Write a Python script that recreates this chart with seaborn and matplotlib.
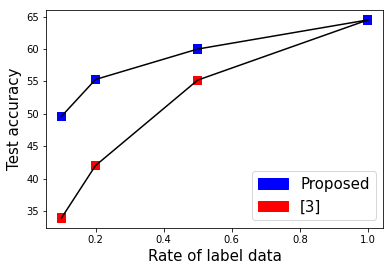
import matplotlib
matplotlib.use("Agg")
import matplotlib.pyplot as plt
import matplotlib.patches as mpatches
import pandas as pd
import seaborn as sns

# Data
rates = [0.1, 0.2, 0.5, 1.0]
proposed = [49.6, 55.3, 60.0, 64.5]
ref3 = [33.9, 42.0, 55.2, 64.5]

df = pd.DataFrame({"rate": rates * 2,
                   "acc": ref3 + proposed,
                   "method": ["[3]"] * len(rates) + ["Proposed"] * len(rates)})

fig = plt.figure(figsize=(391 / 72, 271 / 72), dpi=72)
ax = fig.add_axes([0.118, 0.159, 0.862, 0.804])

# squares first, black lines on top
sns.scatterplot(data=df, x="rate", y="acc", hue="method", palette={"[3]": "red", "Proposed": "blue"},
                marker="s", s=85, linewidth=0, legend=False, ax=ax, zorder=1)
sns.lineplot(x=rates, y=proposed, color="black", linewidth=1.5, ax=ax, zorder=2)
sns.lineplot(x=rates, y=ref3, color="black", linewidth=1.5, ax=ax, zorder=2)

ax.set_xlabel("Rate of label data", fontsize=15)
ax.set_ylabel("Test accuracy", fontsize=15)
ax.set_xticks([0.2, 0.4, 0.6, 0.8, 1.0])
ax.set_yticks([35, 40, 45, 50, 55, 60, 65])

handles = [mpatches.Patch(color="blue", label="Proposed"),
           mpatches.Patch(color="red", label="[3]")]
ax.legend(handles=handles, loc="lower right", fontsize=15)

fig.savefig("out.png", dpi=72)
